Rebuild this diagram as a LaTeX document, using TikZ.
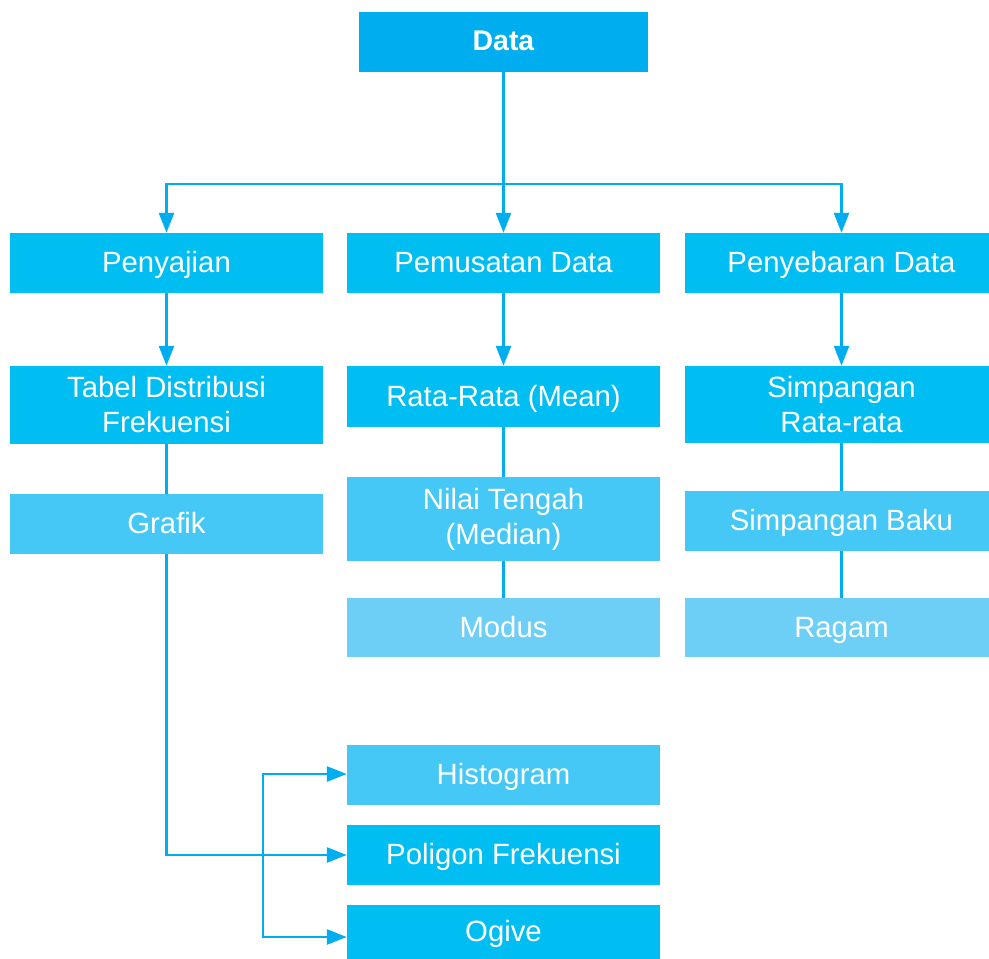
\documentclass[tikz,border=0pt]{standalone}
\usepackage{fontspec}
\setmainfont{Liberation Sans}
\usetikzlibrary{arrows.meta}
\definecolor{dataC}{HTML}{00AEEF}
\definecolor{cA}{HTML}{00BEF2}
\definecolor{cB}{HTML}{45C8F6}
\definecolor{cC}{HTML}{6DCFF6}
\definecolor{lineC}{HTML}{00AEEF}
\tikzset{
  box/.style={draw=none, inner sep=0pt, text=white, align=center,
    font=\fontsize{29.3}{35}\selectfont, minimum width=313pt},
  oneline/.style={text height=21pt, text depth=1.6pt},
  conn/.style={draw=lineC, line width=2.6pt},
  arr/.style={conn, -{Triangle[length=20pt,width=15pt]}}
}
\begin{document}
\begin{tikzpicture}[x=1pt,y=-1pt]
\useasboundingbox (0,0) rectangle (989,959);
% top
\node[box, fill=dataC, minimum width=289pt, minimum height=60pt, font=\fontsize{28.4}{33}\selectfont\bfseries, text height=21pt, text depth=5pt] (data) at (503.5,42) {Data};
% row 1
\node[box, oneline, fill=cA, minimum height=60pt] (pen) at (166.5,263) {Penyajian};
\node[box, oneline, fill=cA, minimum height=60pt] (pem) at (503.5,263) {Pemusatan Data};
\node[box, oneline, fill=cA, minimum height=60pt] (peb) at (841.5,263) {Penyebaran Data};
% row 2
\node[box, fill=cA, minimum height=78pt] (tab) at (166.5,405) {Tabel Distribusi\\Frekuensi};
\node[box, oneline, fill=cA, minimum height=61pt] (rata) at (503.5,396.5) {Rata-Rata (Mean)};
\node[box, fill=cA, minimum height=77pt] (sr) at (841.5,404.5) {Simpangan\\Rata-rata};
% row 3
\node[box, oneline, fill=cB, minimum height=60pt] (graf) at (166.5,524) {Grafik};
\node[box, fill=cB, minimum height=84pt] (med) at (503.5,519) {Nilai Tengah\\(Median)};
\node[box, oneline, fill=cB, minimum height=60pt] (sb) at (841.5,521) {Simpangan Baku};
% row 4
\node[box, oneline, fill=cC, minimum height=59pt] (mod) at (503.5,627.5) {Modus};
\node[box, oneline, fill=cC, minimum height=59pt] (rag) at (841.5,627.5) {Ragam};
% bottom
\node[box, oneline, fill=cB, minimum height=60pt] (hist) at (503.5,775) {Histogram};
\node[box, oneline, fill=cA, minimum height=60pt] (pol) at (503.5,855) {Poligon Frekuensi};
\node[box, oneline, fill=cA, minimum height=54pt] (ogv) at (503.5,932) {Ogive};
% connectors
\coordinate (hb) at (503.5,184);
\draw[arr] (data.south) -- (pem.north);
\draw[arr] (hb) -| (pen.north);
\draw[arr] (hb) -| (peb.north);
\draw[arr] (pen.south) -- (tab.north);
\draw[arr] (pem.south) -- (rata.north);
\draw[arr] (peb.south) -- (sr.north);
\draw[conn] (tab.south) -- (graf.north);
\draw[conn] (rata.south) -- (med.north);
\draw[conn] (med.south) -- (mod.north);
\draw[conn] (sr.south) -- (sb.north);
\draw[conn] (sb.south) -- (rag.north);
\draw[arr] (graf.south) |- (pol.west);
\coordinate (vx) at (263,855);
\draw[arr] (vx) |- ([yshift=1pt]hist.west);
\draw[arr] (vx) |- ([yshift=-5pt]ogv.west);
\end{tikzpicture}
\end{document}
